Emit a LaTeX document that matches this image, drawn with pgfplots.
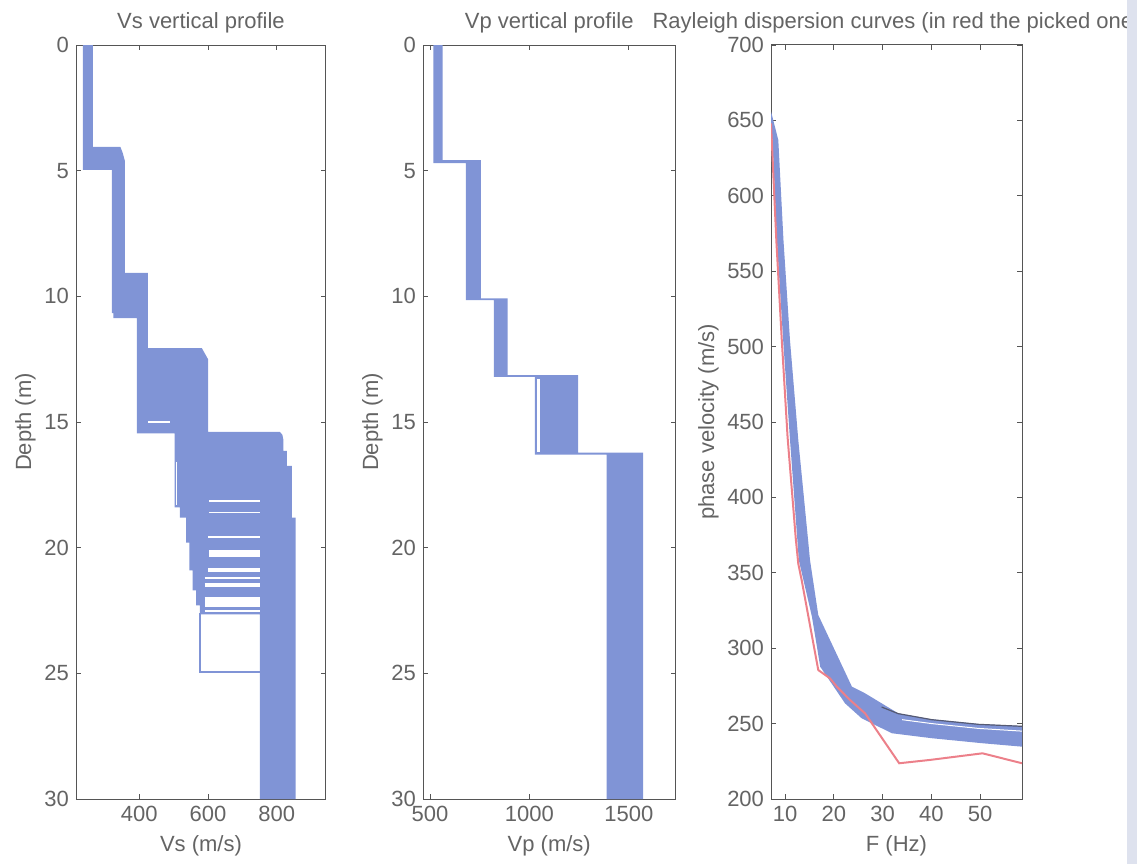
\documentclass[border=0pt]{standalone}
\usepackage{fontspec}
\setmainfont{Liberation Sans}
\usepackage{pgfplots}
\pgfplotsset{compat=1.18}
\definecolor{bandblue}{RGB}{128,148,214}
\definecolor{pickred}{RGB}{236,128,138}
\definecolor{txtgray}{RGB}{100,100,100}
\definecolor{axgray}{RGB}{85,85,85}
\definecolor{scanstrip}{RGB}{222,226,238}
\definecolor{darkedge}{RGB}{85,90,115}

\pgfplotsset{
  mstyle/.style={
    scale only axis, height=377bp,
    anchor=south west,
    tick align=inside,
    major tick length=2.5bp,
    axis line style={axgray, line width=0.5bp},
    tick style={axgray, line width=0.4bp},
    tick label style={font=\fontsize{11bp}{13bp}\selectfont, text=txtgray},
    label style={font=\fontsize{11bp}{13bp}\selectfont, text=txtgray},
    ylabel style={yshift=-2.5bp},
    every axis title/.style={at={(0.5,1)}, anchor=base, yshift=8.4bp,
      font=\fontsize{11bp}{13bp}\selectfont, text=txtgray},
    /pgf/number format/assume math mode=true,
    /pgf/number format/set thousands separator={},
  }
}

\begin{document}
\begin{tikzpicture}
% ---------------- Vs panel ----------------
\begin{axis}[mstyle, at={(38bp,32.5bp)}, width=125bp,
  y dir=reverse, xmin=216, xmax=943, ymin=0, ymax=30,
  xtick={400,600,800}, ytick={0,5,...,30},
  title={Vs vertical profile}, xlabel={Vs (m/s)}, ylabel={Depth (m)}]
\addplot[fill=bandblue, draw=none] coordinates {
 (236,0) (265,0) (265,4.05) (345,4.05) (352,4.3) (358,4.6) (358,9.07)
 (425,9.07) (425,12.06) (582,12.06) (600,12.5) (600,15.39) (808,15.39)
 (816,15.5) (819,15.7) (819,16.15) (829,16.15) (829,16.75) (844,16.75)
 (844,18.8) (855,18.8) (855,30) (751,30) (751,22.65) (576,22.65)
 (576,22.3) (565,22.3) (565,21.7) (555,21.7) (555,20.9) (546,20.9)
 (546,19.8) (536,19.8) (536,18.8) (518,18.8) (518,18.4) (503,18.4)
 (503,15.45) (393,15.45) (393,10.87) (325,10.87) (325,10.67) (320,10.67)
 (320,4.97) (236,4.97)} -- cycle;
% white gaps between the profiles
\addplot[white, line width=0.6bp] coordinates {(425,15.0) (489,15.0)};
\addplot[white, line width=0.5bp] coordinates {(507,16.6) (507,18.3)};
\addplot[white, line width=0.7bp] coordinates {(603,18.15) (751,18.15)};
\addplot[white, line width=0.7bp] coordinates {(603,18.6) (751,18.6)};
\addplot[white, line width=0.9bp] coordinates {(600,19.57) (751,19.57)};
\addplot[white, line width=3.2bp] coordinates {(603,20.23) (751,20.23)};
\addplot[white, line width=1.8bp] coordinates {(600,20.88) (751,20.88)};
\addplot[white, line width=0.8bp] coordinates {(590,21.2) (751,21.2)};
\addplot[white, line width=1.8bp] coordinates {(590,21.48) (751,21.48)};
\addplot[white, line width=4.8bp] coordinates {(590,22.15) (751,22.15)};
\addplot[white, line width=0.8bp] coordinates {(590,22.52) (751,22.52)};
\addplot[bandblue, line width=0.8bp] coordinates {(576,22.6) (576,24.95) (751,24.95)};
\end{axis}

% ---------------- Vp panel ----------------
\begin{axis}[mstyle, at={(211.5bp,32.5bp)}, width=126.25bp,
  y dir=reverse, xmin=465, xmax=1735, ymin=0, ymax=30,
  xtick={500,1000,1500}, ytick={0,5,...,30},
  title={Vp vertical profile}, xlabel={Vp (m/s)}, ylabel={Depth (m)}]
\addplot[fill=bandblue, draw=none] coordinates {
 (517,0) (564,0) (564,4.58) (756,4.58) (756,10.08) (890,10.08)
 (890,13.13) (1245,13.13) (1245,16.22) (1572,16.22) (1572,30)
 (1388,30) (1388,16.3) (1028,16.3) (1028,13.2) (822,13.2)
 (822,10.15) (681,10.15) (681,4.7) (517,4.7)} -- cycle;
\addplot[white, line width=1.4bp] coordinates {(1046,13.3) (1046,16.18)};
\end{axis}

% ---------------- Rayleigh panel ----------------
\begin{axis}[mstyle, at={(385.5bp,32.5bp)}, width=125.5bp,
  xmin=7.1, xmax=58.6, ymin=200, ymax=700,
  xtick={10,20,...,50}, ytick={200,250,...,700},
  title={Rayleigh dispersion curves (in red the picked one)},
  xlabel={F (Hz)}, ylabel={phase velocity (m/s)}]
\addplot[fill=bandblue, draw=none] coordinates {
 (7.1,656) (8.6,637) (9.65,571) (11.0,504) (12.7,438) (14.7,372)
 (15.1,358.5) (16.8,322) (23.7,274.5) (26.4,270.1) (33.2,256.8)
 (40.1,252.8) (49.7,249.7) (58.6,248.4)
 (58.6,234.7) (50.4,237) (40.1,240.3) (31.9,243.6) (25.7,253.5)
 (22.3,263.4) (17.2,287.7) (15.5,320.9) (12.8,358.5) (12.5,372)
 (11.0,438) (9.6,504) (8.3,571) (7.4,637) (7.1,642)} -- cycle;
\addplot[darkedge, line width=0.6bp] coordinates {
 (29.8,261) (33.2,256.6) (40.1,252.6) (49.7,249.5) (58.6,248.2)};
\addplot[white, line width=0.5bp] coordinates {
 (34,252.6) (40.1,250) (49.7,246.8) (58.6,245)};
\addplot[pickred, line width=1bp] coordinates {
 (7.1,648) (8.2,570) (9.3,505) (10.5,440) (12.2,372) (12.7,356)
 (13.4,345) (16.8,285.5) (19.2,280) (20.6,274.5) (23.3,265.7)
 (26.4,256.8) (33.4,223.7) (39.7,225.9) (50.5,230.3) (58.6,223.7)};
\end{axis}

\fill[scanstrip] (563.5bp,0) rectangle (570bp,432bp);
\pgfresetboundingbox
\path[use as bounding box] (0,0) rectangle (568.5bp,432bp);
\end{tikzpicture}
\end{document}
